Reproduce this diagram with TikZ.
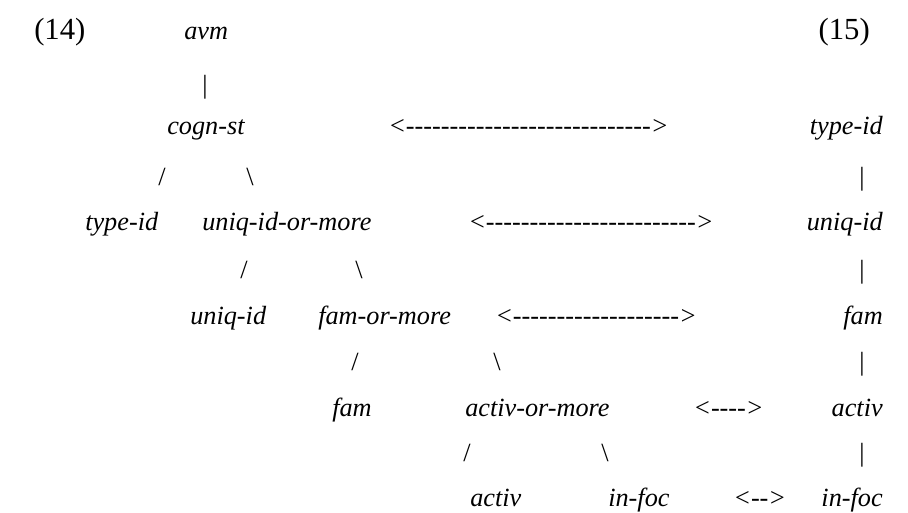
\documentclass[tikz,border=0pt]{standalone}
\usepackage{fontspec}
\setmainfont{Liberation Serif}
\usetikzlibrary{positioning}
\newcommand{\diagfont}{\fontsize{19.7}{24}\selectfont}
\newcommand{\numfont}{\fontsize{23}{27}\selectfont}
\newcommand{\dashrun}[1]{\foreach \k in {1,...,#1}{\mbox{-}}}

\begin{document}
\begin{tikzpicture}[x=0.75pt, y=-0.75pt,
    every node/.style={inner sep=0pt, font=\diagfont},
    num/.style={anchor=base west, font=\numfont},
    rnum/.style={anchor=base east, font=\numfont},
    term/.style={anchor=base west, font=\diagfont\itshape},
    rterm/.style={anchor=base east, font=\diagfont\itshape},
    glyph/.style={anchor=base},
    link/.style={anchor=base west, font=\diagfont\itshape}
]
\useasboundingbox (0,0) rectangle (908,513);

% example numbers
\node[num] (n14) at (34,40) {(14)};
\node[rnum] (n15) at (870,40) {(15)};

% the tree (14)
\node[term] (avm) at (184,40) {avm};
\node[glyph] (barA) at (205,94) {|};
\node[term] (cogn) at (167,135) {cogn-st};
\node[glyph] (slA) at (162,186) {/};
\node[glyph] (bsA) at (250,186) {\textbackslash};
\node[term] (typeL) at (85,231) {type-id};
\node[term] (uniqmore) at (202,231) {uniq-id-or-more};
\node[glyph] (slB) at (244,279) {/};
\node[glyph] (bsB) at (359,279) {\textbackslash};
\node[term] (uniqL) at (190,325) {uniq-id};
\node[term] (fammore) at (318,325) {fam-or-more};
\node[glyph] (slC) at (355,371) {/};
\node[glyph] (bsC) at (497,371) {\textbackslash};
\node[term] (famL) at (332,417) {fam};
\node[term] (activmore) at (465,417) {activ-or-more};
\node[glyph] (slD) at (467,462) {/};
\node[glyph] (bsD) at (605,462) {\textbackslash};
\node[term] (activL) at (470,507) {activ};
\node[term] (infoc) at (608,507) {in-foc};

% the chain (15)
\node[rterm] (typeR) at (883,135) {type-id};
\node[glyph] (barB) at (862,186) {|};
\node[rterm] (uniqR) at (883,231) {uniq-id};
\node[glyph] (barC) at (862,279) {|};
\node[rterm] (famR) at (883,325) {fam};
\node[glyph] (barD) at (862,371) {|};
\node[rterm] (activR) at (883,417) {activ};
\node[glyph] (barE) at (862,462) {|};
\node[rterm] (infocR) at (883,507) {in-foc};

% correspondences
\node[link] (arrA) at (388,135) {<\dashrun{28}>};
\node[link] (arrB) at (468,231) {<\dashrun{24}>};
\node[link] (arrC) at (495,325) {<\dashrun{19}>};
\node[link] (arrD) at (693,417) {<\dashrun{4}>};
\node[link] (arrE) at (733,507) {<\dashrun{2}>};

\end{tikzpicture}
\end{document}
